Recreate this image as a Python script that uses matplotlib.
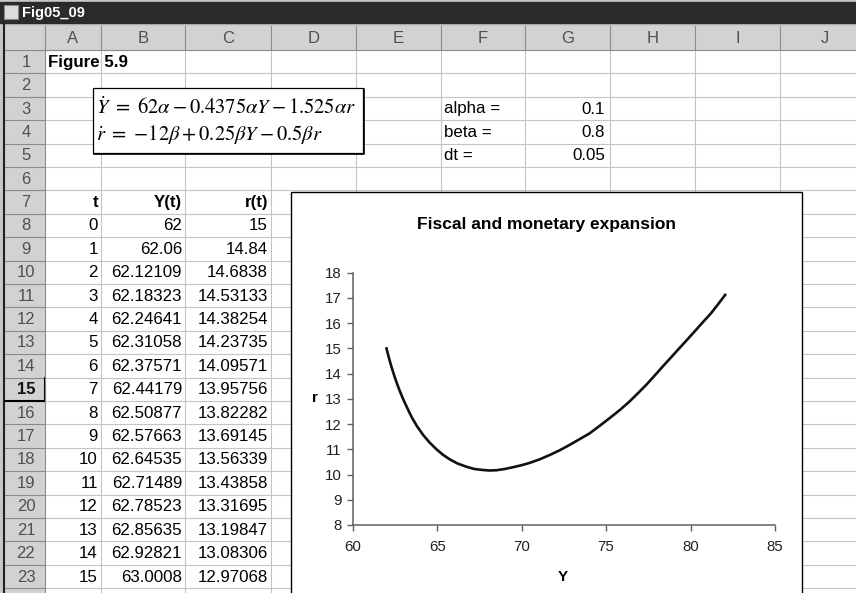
import matplotlib.pyplot as plt
from matplotlib.patches import Rectangle

plt.rcParams['font.family'] = ['Liberation Sans', 'DejaVu Sans']
plt.rcParams['mathtext.fontset'] = 'stix'

# spreadsheet table (t, Y(t), r(t))
t_vals = list(range(16))
Y_table = [62, 62.06, 62.12109, 62.18323, 62.24641, 62.31058, 62.37571, 62.44179,
           62.50877, 62.57663, 62.64535, 62.71489, 62.78523, 62.85635, 62.92821, 63.0008]
r_table = [15, 14.84, 14.6838, 14.53133, 14.38254, 14.23735, 14.09571, 13.95756,
           13.82282, 13.69145, 13.56339, 13.43858, 13.31695, 13.19847, 13.08306, 12.97068]

# parameters
param_names = ["alpha =", "beta =", "dt ="]
param_vals = ["0.1", "0.8", "0.05"]

# rest of the path
Y_path = [63.2, 63.48, 63.8, 64.17, 64.55, 64.96, 65.35, 65.75, 66.2, 66.73, 67.2, 67.71,
          68.1, 68.5, 69.0, 69.49, 70.0, 70.47, 71.06, 71.65, 72.25, 72.83, 73.4, 74.02,
          74.6, 75.2, 75.8, 76.38, 76.88, 77.37, 77.86, 78.35, 78.84, 79.33, 79.82, 80.32,
          80.76, 81.21, 81.63, 82.05]
r_path = [12.68, 12.29, 11.92, 11.57, 11.27, 11.0, 10.78, 10.6, 10.44, 10.31, 10.22, 10.18,
          10.16, 10.17, 10.22, 10.29, 10.37, 10.46, 10.6, 10.77, 10.96, 11.17, 11.39, 11.63,
          11.92, 12.23, 12.55, 12.89, 13.22, 13.55, 13.91, 14.28, 14.64, 15.0, 15.36, 15.73,
          16.06, 16.39, 16.75, 17.12]

col_letters = ["A", "B", "C", "D", "E", "F", "G", "H", "I", "J"]
col_edges = [45, 101, 185, 271, 356, 441, 525, 610, 695, 780, 870]
row_h = 23.4
row_top = 50

fig = plt.figure(figsize=(8.56, 5.93), dpi=100)
fig.patch.set_facecolor('#c8c8c8')
sheet = fig.add_axes([0, 0, 1, 1])
sheet.set_xlim(0, 856)
sheet.set_ylim(593, 0)
sheet.axis('off')

# title bar
sheet.add_patch(Rectangle((0, 2), 856, 21, color='#2a2a2a'))
sheet.add_patch(Rectangle((4, 5), 14, 14, facecolor='#dddddd', edgecolor='#888888', lw=0.8))
sheet.text(22, 12.5, "Fig05_09", color='white', fontsize=10.5, fontweight='bold', va='center')

# cells
sheet.add_patch(Rectangle((45, 50), 830, 560, color='white'))
for x in col_edges[1:]:
    sheet.plot([x, x], [50, 600], color='#c4c4c4', lw=0.8)
for i in range(25):
    y = row_top + i * row_h
    sheet.plot([45, 860], [y, y], color='#c4c4c4', lw=0.8)

# headers
sheet.add_patch(Rectangle((5, 26), 860, 24, facecolor='#d2d2d2'))
sheet.add_patch(Rectangle((5, 50), 40, 560, facecolor='#d2d2d2'))
sheet.plot([4.5, 4.5], [24, 593], color='#202020', lw=1.5)
for i, x in enumerate(col_edges[:-1]):
    sheet.plot([x, x], [26, 50], color='#8a8a8a', lw=0.8)
    sheet.text((x + col_edges[i + 1]) / 2, 38.5, col_letters[i], ha='center', va='center',
               fontsize=12, color='#505050')
sheet.plot([5, 860], [50, 50], color='#8a8a8a', lw=0.8)
for i in range(24):
    y = row_top + i * row_h
    sheet.plot([5, 45], [y + row_h, y + row_h], color='#8a8a8a', lw=0.8)
    if i < 23:
        sheet.text(26, y + row_h / 2 + 0.5, str(i + 1), ha='center', va='center', fontsize=12,
                   color='#111111' if i == 14 else '#505050',
                   fontweight='bold' if i == 14 else 'normal')
sel = row_top + 14 * row_h
sheet.plot([5, 45, 45], [sel + row_h, sel + row_h, sel], color='black', lw=1.5)
sheet.plot([45, 45], [50, 600], color='#8a8a8a', lw=0.8)


def cell_y(row):
    return row_top + (row - 1) * row_h + row_h / 2 + 0.5


fs = 12.2
sheet.text(48, cell_y(1), "Figure 5.9", fontsize=fs, fontweight='bold', va='center')
for i, (name, val) in enumerate(zip(param_names, param_vals)):
    sheet.text(444, cell_y(3 + i), name, fontsize=fs, va='center')
    sheet.text(605, cell_y(3 + i), val, fontsize=fs, va='center', ha='right')

for j, head in enumerate(["t", "Y(t)", "r(t)"]):
    sheet.text(col_edges[j + 1] - 3, cell_y(7), head, fontsize=fs, fontweight='bold',
               va='center', ha='right')
for k in range(len(t_vals)):
    yy = cell_y(8 + k)
    sheet.text(col_edges[1] - 3, yy, str(t_vals[k]), fontsize=fs, va='center', ha='right')
    sheet.text(col_edges[2] - 3, yy, f"{Y_table[k]:.7g}", fontsize=fs, va='center', ha='right')
    sheet.text(col_edges[3] - 3, yy, f"{r_table[k]:.7g}", fontsize=fs, va='center', ha='right')

# equation box
sheet.add_patch(Rectangle((93, 88), 270, 65, facecolor='white', edgecolor='black', lw=0.9, zorder=5))
sheet.plot([364, 364, 94], [89, 154, 154], color='black', lw=1.2, zorder=5)
sheet.text(96, 107, r'$\dot{Y}\ =\ 62\alpha - 0.4375\alpha Y - 1.525\alpha r$', fontsize=14.8,
           va='center', zorder=6)
sheet.text(96, 134, r'$\dot{r}\ =\ {-12}\beta + 0.25\beta Y - 0.5\beta r$', fontsize=14.8,
           va='center', zorder=6)

# chart object
sheet.add_patch(Rectangle((291, 192), 511, 420, facecolor='white', edgecolor='black', lw=1.0, zorder=5))
sheet.text(547, 224, "Fiscal and monetary expansion", fontsize=12.5, fontweight='bold',
           ha='center', va='center', zorder=6)
sheet.text(563, 577, "Y", fontsize=11, fontweight='bold', ha='center', va='center', zorder=6)
sheet.text(315, 398, "r", fontsize=11, fontweight='bold', ha='center', va='center', zorder=6)

ax = fig.add_axes([352.7 / 856, (593 - 525) / 593, (775 - 352.7) / 856, (525 - 272.7) / 593])
ax.patch.set_alpha(0)
ax.plot(Y_table + Y_path, r_table + r_path, color='#111111', lw=1.9, solid_joinstyle='round')
ax.set_xlim(60, 85)
ax.set_ylim(8, 18)
ax.set_xticks(range(60, 86, 5))
ax.set_yticks(range(8, 19))
for s in ['top', 'right']:
    ax.spines[s].set_visible(False)
for s in ['left', 'bottom']:
    ax.spines[s].set_color('#606060')
    ax.spines[s].set_linewidth(1.1)
ax.tick_params(direction='out', length=4, width=1, color='#606060', labelsize=10.8,
               labelcolor='#222222')
ax.tick_params(axis='x', pad=7)
ax.tick_params(axis='y', pad=4)

fig.savefig('out.png', dpi=100)
